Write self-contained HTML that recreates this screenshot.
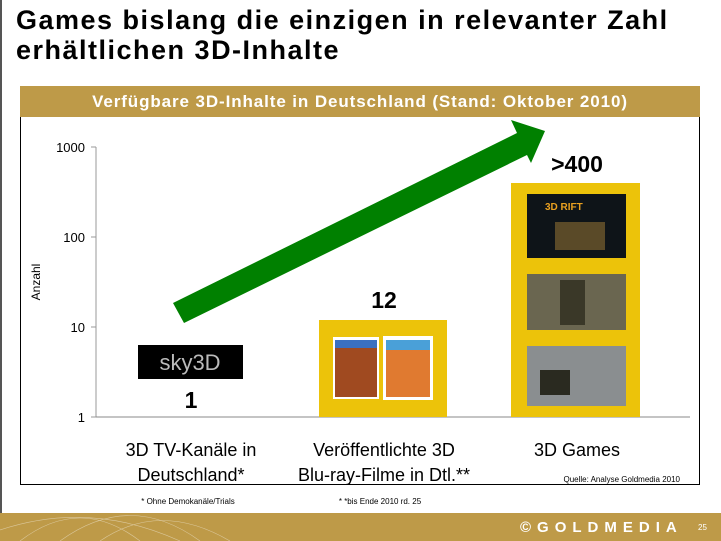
<!DOCTYPE html>
<html><head><meta charset="utf-8"><style>
html,body{margin:0;width:721px;height:541px;overflow:hidden}
body{background:#fff;position:relative;font-family:"Liberation Sans",sans-serif}
.t{position:absolute;left:16px;top:5px;font-size:27px;letter-spacing:1.5px;font-weight:bold;line-height:30px;color:#000}
</style></head><body>
<div style="position:absolute;left:0;top:0;width:2px;height:541px;background:#555"></div>
<div class="t">Games bislang die einzigen in relevanter Zahl<br>erhältlichen 3D-Inhalte</div>
<div style="position:absolute;left:20px;top:86px;width:680px;height:31px;background:#be9a48;color:#fff;font-weight:bold;font-size:17px;letter-spacing:0.9px;line-height:31px;text-align:center">Verfügbare 3D-Inhalte in Deutschland (Stand: Oktober 2010)</div>
<div style="position:absolute;left:20px;top:117px;width:678px;height:367px;border:1px solid #000;border-top:none"></div>
<svg width="721" height="541" style="position:absolute;left:0;top:0;overflow:hidden" font-family="Liberation Sans, sans-serif">
<line x1="96" y1="147" x2="96" y2="417" stroke="#999"/>
<line x1="96" y1="417" x2="690" y2="417" stroke="#888"/>
<g stroke="#999"><line x1="91" y1="147" x2="96" y2="147"/><line x1="91" y1="237" x2="96" y2="237"/><line x1="91" y1="327" x2="96" y2="327"/><line x1="91" y1="417" x2="96" y2="417"/></g>
<g font-size="13" text-anchor="end" fill="#000"><text x="85" y="152">1000</text><text x="85" y="242">100</text><text x="85" y="332">10</text><text x="85" y="422">1</text></g>
<text x="40" y="282" font-size="12" transform="rotate(-90 40 282)" text-anchor="middle">Anzahl</text>
<rect x="319" y="320" width="128" height="97" fill="#ecc30a"/>
<rect x="333" y="337" width="46" height="62" fill="#fff"/><rect x="335" y="340" width="42" height="57" fill="#a04a20"/><rect x="335" y="340" width="42" height="8" fill="#3a70c0"/>
<rect x="383" y="336" width="50" height="64" fill="#fff"/><rect x="386" y="340" width="44" height="57" fill="#e07a30"/><rect x="386" y="340" width="44" height="10" fill="#4aa0d8"/>
<rect x="511" y="183" width="129" height="234" fill="#ecc30a"/>
<rect x="527" y="194" width="99" height="64" fill="#0e1418"/><text x="545" y="210" font-size="10" font-weight="bold" fill="#e8a020">3D RIFT</text><rect x="555" y="222" width="50" height="28" fill="#5a4a28"/>
<rect x="527" y="274" width="99" height="56" fill="#6a6650"/><rect x="560" y="280" width="25" height="45" fill="#3a3828"/>
<rect x="527" y="346" width="99" height="60" fill="#8a8e90"/><rect x="540" y="370" width="30" height="25" fill="#2a2a20"/>
<rect x="138" y="345" width="105" height="34" fill="#000"/><text x="190" y="370" font-size="22" fill="#bbb" text-anchor="middle">sky3D</text>
<g font-weight="bold" font-size="23" text-anchor="middle" fill="#000"><text x="191" y="408">1</text><text x="384" y="308">12</text><text x="577" y="172">&gt;400</text></g>
<polygon points="173,303 517,133 511,120 545,131 531,163 527,155 184,323" fill="#008000"/>
<g font-size="18" text-anchor="middle" fill="#000"><text x="191" y="456">3D TV-Kanäle in</text><text x="191" y="481">Deutschland*</text>
<text x="384" y="456">Veröffentlichte 3D</text><text x="384" y="481">Blu-ray-Filme in Dtl.**</text><text x="577" y="456">3D Games</text></g>
<text x="680" y="482" font-size="8" text-anchor="end">Quelle: Analyse Goldmedia 2010</text>
<text x="188" y="504" font-size="8" text-anchor="middle">* Ohne Demokanäle/Trials</text>
<text x="380" y="504" font-size="8" text-anchor="middle">* *bis Ende 2010 rd. 25</text>
<rect x="0" y="513" width="721" height="28" fill="#be9a48"/>
<g stroke="#e8dcc0" stroke-width="0.6" fill="none" opacity="0.7"><path d="M20,541 Q80,495 140,541"/><path d="M60,541 Q130,490 200,541"/><path d="M100,541 Q160,500 230,541"/><path d="M0,530 Q90,500 180,541"/></g>
<text x="520" y="532" font-size="15" font-weight="bold" fill="#fff" letter-spacing="6">©GOLDMEDIA</text>
<text x="698" y="530" font-size="8" fill="#fff">25</text>
</svg>
</body></html>
